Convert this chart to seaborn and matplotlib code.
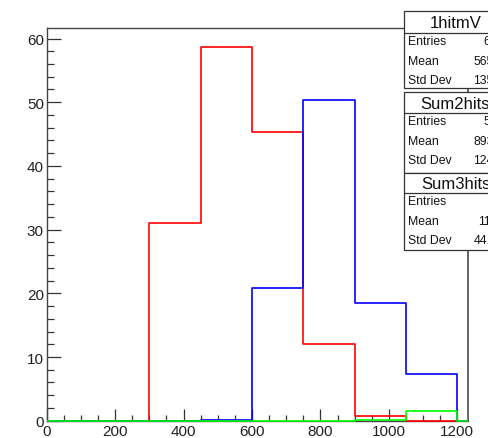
import numpy as np
import pandas as pd
import matplotlib
matplotlib.use("Agg")
import matplotlib.pyplot as plt
from matplotlib.patches import Rectangle
from matplotlib.lines import Line2D
from matplotlib.ticker import MultipleLocator
from matplotlib.transforms import Bbox, TransformedBbox
import seaborn as sns

# Histogram binning (150-wide bins) and per-bin contents
bin_edges = [0, 150, 300, 450, 600, 750, 900, 1050, 1200, 1350]
hit1_counts = [0, 0, 31.0, 58.6, 45.3, 12.0, 0.8, 0, 0]
sum2_counts = [0, 0, 0, 0.15, 20.8, 50.3, 18.5, 7.3, 0]
sum3_counts = [0, 0, 0, 0, 0, 0, 0.15, 1.5, 0]

series_names = ["1hitmV", "Sum2hits", "Sum3hits"]
series_colors = ["#ff0000", "#0000ff", "#00ff00"]

# Statistics boxes
stat_labels = ["Entries", "Mean", "Std Dev"]
stat_values = [
    ["618", "565.8", "135.2"],
    ["572", "893.6", "124.9"],
    ["12", "1127", "44.21"],
]

sns.set_style("white")
plt.rcParams["font.family"] = ["Liberation Sans", "DejaVu Sans"]

W, H = 489, 439
fig = plt.figure(figsize=(W / 100, H / 100), dpi=100)
ax = fig.add_axes([46.7 / W, 1 - 421.7 / H, (468.3 - 46.7) / W, (421.7 - 28.7) / H])

centers = [(a + b) / 2 for a, b in zip(bin_edges[:-1], bin_edges[1:])]
for name, counts, color in zip(series_names, [hit1_counts, sum2_counts, sum3_counts], series_colors):
    df = pd.DataFrame({"x": centers, "w": counts})
    sns.histplot(data=df, x="x", weights="w", bins=bin_edges, element="step",
                 fill=False, color=color, linewidth=1.2, ax=ax)

XMAX, YMAX = 1232, 61.7
ax.set_xlim(0, XMAX)
ax.set_ylim(0, YMAX)
ax.set_xlabel("")
ax.set_ylabel("")

# histogram outlines sit on top of the frame, and the zero level is not cut in half
clip = TransformedBbox(Bbox([[0, -1.0], [XMAX, YMAX]]), ax.transData)
for i, ln in enumerate(ax.lines):
    ln.set_zorder(3 + 0.1 * i)
    ln.set_clip_path(None)
    ln.set_clip_box(clip)
    ln.set_clip_on(True)

ax.xaxis.set_major_locator(MultipleLocator(200))
ax.xaxis.set_minor_locator(MultipleLocator(50))
ax.yaxis.set_major_locator(MultipleLocator(10))
ax.yaxis.set_minor_locator(MultipleLocator(2))
ax.tick_params(axis="both", which="both", direction="in", bottom=True, left=True,
               top=False, right=False, colors="#333333", labelcolor="#222222",
               labelsize=11)
ax.tick_params(axis="x", which="major", length=8.4, width=0.9, pad=2.5)
ax.tick_params(axis="x", which="minor", length=4.3, width=0.9)
ax.tick_params(axis="y", which="major", length=10, width=0.9, pad=2)
ax.tick_params(axis="y", which="minor", length=4.8, width=0.9)
for sp in ax.spines.values():
    sp.set_visible(True)
    sp.set_color("#444444")
    sp.set_linewidth(1.0)
    sp.set_zorder(2)
ax.spines["right"].set_linewidth(1.4)
ax.spines["right"].set_color("#666666")


def fx(px):
    return px / W


def fy(py):
    return 1 - py / H


boxes = [
    (11.7, 34.3, 89.3),
    (93.3, 114.3, 174.0),
    (174.3, 194.3, 250.5),
]
x0, x1 = 404.3, 507.0
for (top, div, bot), name, vals in zip(boxes, series_names, stat_values):
    fig.add_artist(Rectangle((fx(x0), fy(bot)), fx(x1) - fx(x0), fy(top) - fy(bot),
                             transform=fig.transFigure, facecolor="white",
                             edgecolor="#333333", linewidth=0.9, zorder=5))
    fig.add_artist(Line2D([fx(x0), fx(x1)], [fy(div), fy(div)], transform=fig.transFigure,
                          color="#333333", linewidth=0.9, zorder=6))
    fig.text(fx(455.5), fy((top + div) / 2 + 0.5), name, ha="center", va="center",
             fontsize=12, color="#111111", zorder=7)
    for i, (lab, val) in enumerate(zip(stat_labels, vals)):
        yy = div + 8.0 + i * 19.5
        fig.text(fx(408), fy(yy), lab, ha="left", va="center", fontsize=8.8,
                 color="#111111", zorder=7)
        fig.text(fx(504), fy(yy), val, ha="right", va="center", fontsize=8.8,
                 color="#111111", zorder=7)

fig.savefig("out.png", dpi=100)
